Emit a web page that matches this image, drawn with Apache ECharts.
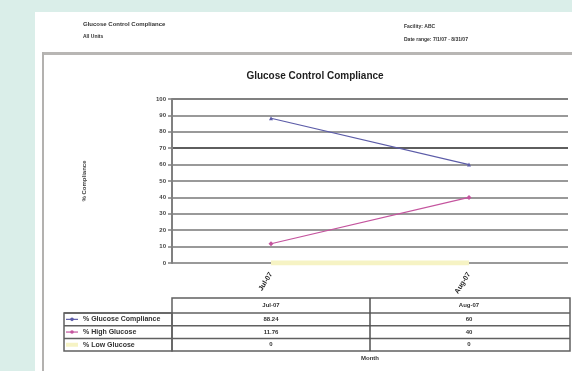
<!DOCTYPE html>
<html>
<head>
<meta charset="utf-8">
<script src="https://cdn.jsdelivr.net/npm/echarts@6/dist/echarts.min.js"></script>
<style>
  html, body { margin: 0; padding: 0; background: #daeee9; }
  #chart { width: 572px; height: 371px; }
</style>
</head>
<body>
<div id="chart"></div>
<script>
// Monthly compliance figures
const months = ['Jul-07', 'Aug-07'];
const seriesNames = ['% Glucose Compliance', '% High Glucose', '% Low Glucose'];
const compliance = [88.24, 60];
const highGlucose = [11.76, 40];
const lowGlucose = [0, 0];
const seriesColors = ['#5c5ca8', '#c4549e', '#f6f3c4'];
const yTicks = { min: 0, max: 100, interval: 10 };

const FONT = 'Liberation Sans, Arial, sans-serif';
const chart = echarts.init(document.getElementById('chart'), null, { renderer: 'canvas' });

// Grid line colours: the 70 line and the top line drawn a little heavier
const splitColors = [];
for (let v = yTicks.min; v <= yTicks.max; v += yTicks.interval) {
  splitColors.push(v === 70 ? '#5e5e5e' : (v === 100 ? '#808080' : '#999999'));
}

const allValues = [compliance, highGlucose, lowGlucose];

chart.setOption({
  backgroundColor: '#daeee9',
  animation: false,
  title: {
    text: 'Glucose Control Compliance',
    left: 310, top: 66, textAlign: 'center',
    textStyle: { fontFamily: FONT, fontSize: 10, fontWeight: 'bold', color: '#1e1e1e' }
  },
  grid: { left: 172, right: 4, top: 99, bottom: 108 },
  xAxis: {
    type: 'category',
    data: months,
    boundaryGap: true,
    axisLine: { show: false },
    axisTick: { show: false },
    axisLabel: {
      rotate: 58, fontFamily: FONT, fontSize: 7, fontWeight: 'bold', color: '#1e1e1e', margin: 10
    },
    name: 'Month',
    nameLocation: 'middle',
    nameGap: 92,
    nameTextStyle: { fontFamily: FONT, fontSize: 6, fontWeight: 'bold', color: '#333' }
  },
  yAxis: {
    type: 'value',
    min: yTicks.min, max: yTicks.max, interval: yTicks.interval,
    axisLine: { show: true, lineStyle: { color: '#808080', width: 2 } },
    axisTick: { show: true, length: 4, lineStyle: { color: '#808080', width: 1.5 } },
    axisLabel: { fontFamily: FONT, fontSize: 6, fontWeight: 'bold', color: '#444', margin: 6 },
    splitLine: { show: true, lineStyle: { color: splitColors, width: 2 } },
    name: '% Compliance',
    nameLocation: 'middle',
    nameRotate: 90,
    nameGap: 85,
    nameTextStyle: { fontFamily: FONT, fontSize: 6, fontWeight: 'bold', color: '#444' }
  },
  series: [
    {
      name: seriesNames[0], type: 'line', data: compliance,
      symbol: 'triangle', symbolSize: 4,
      lineStyle: { color: seriesColors[0], width: 1.2 },
      itemStyle: { color: seriesColors[0] }, z: 4
    },
    {
      name: seriesNames[1], type: 'line', data: highGlucose,
      symbol: 'diamond', symbolSize: 5,
      lineStyle: { color: seriesColors[1], width: 1.2 },
      itemStyle: { color: seriesColors[1] }, z: 4
    },
    {
      name: seriesNames[2], type: 'line', data: lowGlucose,
      symbol: 'none',
      lineStyle: { color: seriesColors[2], width: 5 },
      z: 3
    }
  ]
});

// Page frame, report header and the data table below the plot
function buildGraphics() {
  const xs = months.map(m => chart.convertToPixel({ xAxisIndex: 0 }, m));
  const tableLeft = 172, tableRight = 570;
  const keyLeft = 64;
  const headTop = 298, rowH = 12.7;
  const rowTops = [313, 313 + rowH, 313 + 2 * rowH];
  const tableBottom = 313 + 3 * rowH;
  const divider = (xs[0] + xs[1]) / 2;
  const border = { stroke: '#606060', lineWidth: 1.5, fill: null };
  const els = [];

  // white report page
  els.push({ type: 'rect', z: -100, silent: true,
    shape: { x: 35, y: 12, width: 540, height: 370 }, style: { fill: '#ffffff' } });
  // header separator and chart frame
  els.push({ type: 'rect', z: -90, silent: true,
    shape: { x: 42, y: 52, width: 535, height: 3 }, style: { fill: '#b8b6b4' } });
  els.push({ type: 'rect', z: -90, silent: true,
    shape: { x: 42, y: 52, width: 2, height: 330 }, style: { fill: '#b3b1af' } });

  // report header text
  const hdr = (x, y, text, size, bold) => els.push({ type: 'text', z: 10, silent: true,
    style: { x, y, text, fontFamily: FONT, fontSize: size, fontWeight: bold ? 'bold' : 'normal',
      fill: '#333', textVerticalAlign: 'middle' } });
  hdr(83, 24, 'Glucose Control Compliance', 6, true);
  hdr(83, 37, 'All Units', 5, true);
  hdr(404, 27, 'Facility: ABC', 5, true);
  hdr(404, 40, 'Date range: 7/1/07 - 8/31/07', 5, true);

  // table outline: header row over the month columns, legend column on the left
  els.push({ type: 'rect', z: 10, silent: true,
    shape: { x: tableLeft, y: headTop, width: tableRight - tableLeft, height: tableBottom - headTop },
    style: border });
  els.push({ type: 'rect', z: 10, silent: true,
    shape: { x: keyLeft, y: rowTops[0], width: tableLeft - keyLeft, height: tableBottom - rowTops[0] },
    style: border });
  rowTops.forEach(y => els.push({ type: 'line', z: 10, silent: true,
    shape: { x1: keyLeft, y1: y, x2: tableRight, y2: y }, style: { stroke: '#606060', lineWidth: 1.5 } }));
  els.push({ type: 'line', z: 10, silent: true,
    shape: { x1: divider, y1: headTop, x2: divider, y2: tableBottom },
    style: { stroke: '#505050', lineWidth: 1.5 } });

  // header cells
  months.forEach((m, i) => els.push({ type: 'text', z: 11, silent: true,
    style: { x: xs[i], y: headTop + 7, text: m, fontFamily: FONT, fontSize: 6, fontWeight: 'bold',
      fill: '#333', textAlign: 'center', textVerticalAlign: 'middle' } }));

  // legend keys and value cells
  seriesNames.forEach((name, r) => {
    const cy = rowTops[r] + rowH / 2;
    if (r < 2) {
      els.push({ type: 'line', z: 11, silent: true,
        shape: { x1: keyLeft + 2, y1: cy, x2: keyLeft + 14, y2: cy },
        style: { stroke: seriesColors[r], lineWidth: 1.2 } });
      els.push({ type: 'circle', z: 11, silent: true,
        shape: { cx: keyLeft + 8, cy, r: 1.8 }, style: { fill: seriesColors[r] } });
    } else {
      els.push({ type: 'line', z: 11, silent: true,
        shape: { x1: keyLeft + 2, y1: cy, x2: keyLeft + 14, y2: cy },
        style: { stroke: seriesColors[r], lineWidth: 4 } });
    }
    els.push({ type: 'text', z: 11, silent: true,
      style: { x: keyLeft + 19, y: cy, text: name, fontFamily: FONT, fontSize: 7, fontWeight: 'bold',
        fill: '#333', textVerticalAlign: 'middle' } });
    allValues[r].forEach((v, i) => els.push({ type: 'text', z: 11, silent: true,
      style: { x: xs[i], y: cy, text: String(v), fontFamily: FONT, fontSize: 6, fontWeight: 'bold',
        fill: '#333', textAlign: 'center', textVerticalAlign: 'middle' } }));
  });

  chart.setOption({ graphic: { elements: els } });
}
buildGraphics();
</script>
</body>
</html>
